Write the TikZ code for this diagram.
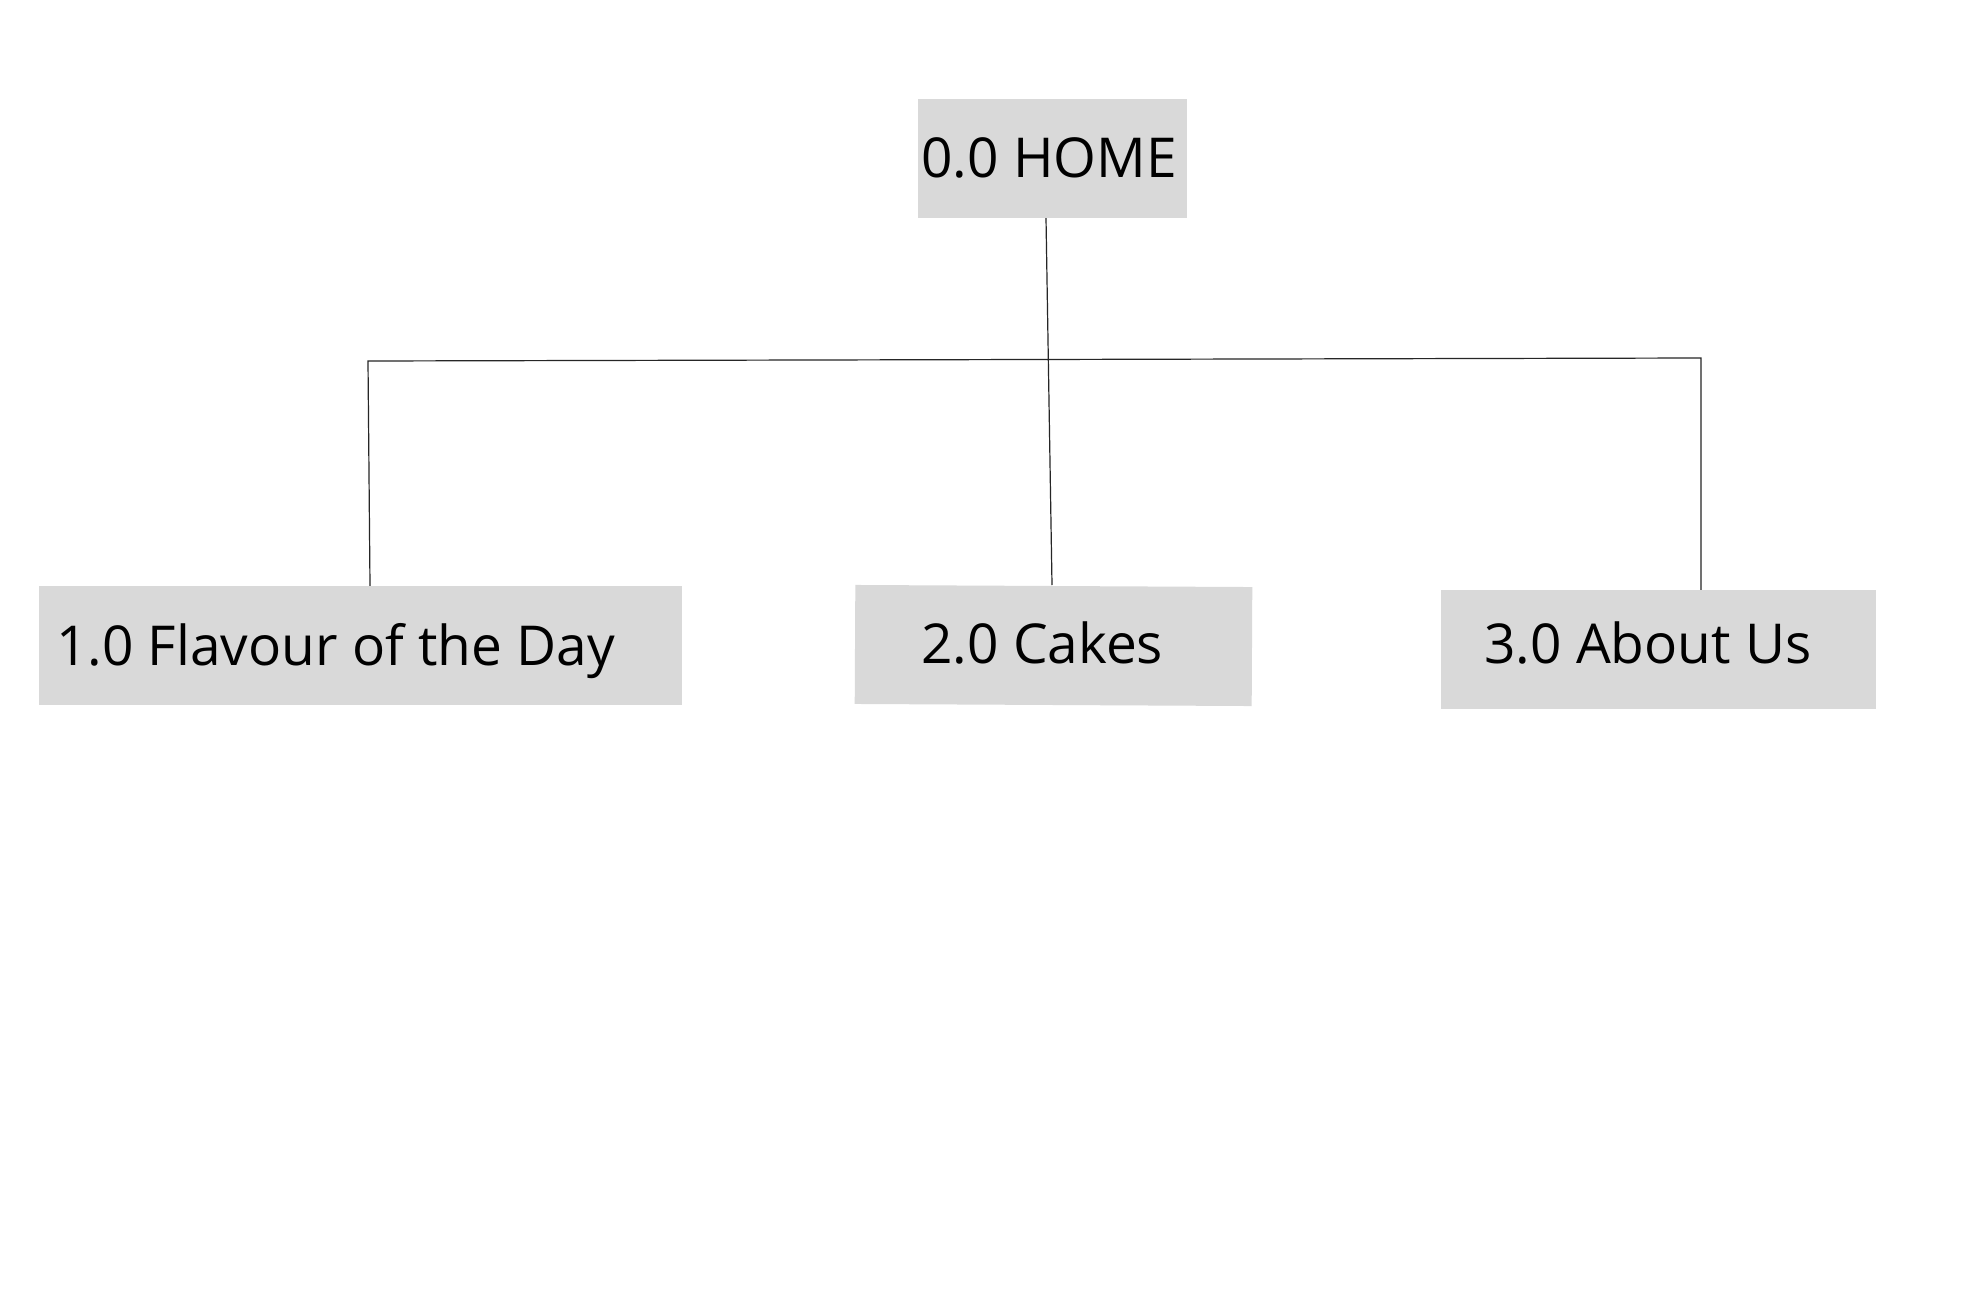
\documentclass[tikz,border=0pt]{standalone}
\usepackage{fontspec}
\setmainfont{Open Sans}
\definecolor{boxgray}{HTML}{D9D9D9}
\begin{document}
\begin{tikzpicture}[x=1pt,y=-1pt,
  box/.style={fill=boxgray,draw=none,inner sep=0pt,minimum width=#1},
  lbl/.style={anchor=base west,inner sep=0pt,font=\fontsize{55}{60}\selectfont},
  conn/.style={line width=1.2pt,draw=black!85}]
\useasboundingbox[fill=white] (0,0) rectangle (1988,1300);
% boxes
\node[box=269,minimum height=119] (home) at (1052.5,158.5) {};
\node[box=643,minimum height=119] (flav) at (360.5,645.5) {};
\node[box=397,minimum height=119,rotate=-0.3] (cakes) at (1053.5,645.5) {};
\node[box=435,minimum height=119] (about) at (1658.5,649.5) {};
% labels
\node[lbl] (thome) at (921,178) {0.0 HOME};
\node[lbl] (tflav) at (56,665) {1.0 Flavour of the Day};
\node[lbl] (tcakes) at (921,663) {2.0 Cakes};
\node[lbl] (tabout) at (1484,663) {3.0 About Us};
% connectors
\coordinate (hl) at (368,361);
\coordinate (hr) at (1701,358);
\draw[conn] (home.south -| 1046,0) -- (1052,585);
\draw[conn] (flav.north -| 370,0) -- (hl) -- (hr) -- (about.north -| hr);
\end{tikzpicture}
\end{document}
